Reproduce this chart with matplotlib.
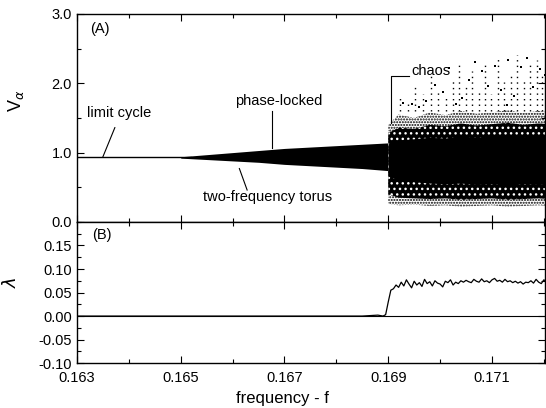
import numpy as np
import matplotlib
matplotlib.use("Agg")
import matplotlib.pyplot as plt
from matplotlib.ticker import MultipleLocator, FixedLocator

plt.rcParams['font.family'] = ['Liberation Sans', 'DejaVu Sans']
plt.rcParams['hatch.linewidth'] = 1.0

# --- panel A: amplitude envelopes ---
limit_f = [0.1630, 0.1652]
limit_v = [0.93, 0.93]

torus_f = [0.1650, 0.1655, 0.1660, 0.1665, 0.1670, 0.1675, 0.1680, 0.1685, 0.1690]
torus_hi = [0.94, 0.97, 1.00, 1.03, 1.06, 1.08, 1.10, 1.12, 1.14]
torus_lo = [0.92, 0.90, 0.88, 0.86, 0.83, 0.81, 0.79, 0.77, 0.74]

chaos_f = [0.16900, 0.16920, 0.16950, 0.16980, 0.17010, 0.17040, 0.17070,
           0.17100, 0.17130, 0.17160, 0.17190, 0.17210]
chaos_outer_hi = [1.40, 1.55, 1.50, 1.58, 1.54, 1.60, 1.56, 1.58, 1.61, 1.57, 1.60, 1.58]
chaos_outer_lo = [0.26, 0.24, 0.25, 0.23, 0.24, 0.22, 0.23, 0.24, 0.22, 0.23, 0.24, 0.23]
chaos_mid_hi = [1.28, 1.36, 1.34, 1.40, 1.38, 1.42, 1.39, 1.41, 1.43, 1.40, 1.42, 1.41]
chaos_mid_lo = [0.40, 0.35, 0.34, 0.33, 0.34, 0.32, 0.33, 0.34, 0.32, 0.33, 0.34, 0.33]
chaos_core_hi = [1.14, 1.18, 1.20, 1.22, 1.21, 1.24, 1.22, 1.24, 1.25, 1.23, 1.24, 1.23]
chaos_core_lo = [0.66, 0.60, 0.58, 0.56, 0.55, 0.56, 0.54, 0.55, 0.53, 0.55, 0.54, 0.55]

# dotted vertical streaks of sparse points above the band
streak_f = [0.16922, 0.16938, 0.16951, 0.16967, 0.16983, 0.16996, 0.17011, 0.17024,
            0.17036, 0.17049, 0.17061, 0.17074, 0.17087, 0.17099, 0.17112, 0.17124,
            0.17137, 0.17149, 0.17162, 0.17174, 0.17186, 0.17197, 0.17206, 0.17214]
streak_top = [1.82, 1.76, 1.98, 1.85, 2.12, 1.90, 1.80, 2.08, 2.26, 1.95, 2.18, 1.88,
              2.30, 1.84, 2.36, 2.02, 2.15, 2.40, 2.05, 2.28, 2.34, 2.10, 2.38, 1.96]

# isolated points
sparse_f = [0.16928, 0.16945, 0.16972, 0.16990, 0.17005, 0.17018, 0.17042, 0.17056,
            0.17068, 0.17081, 0.17093, 0.17106, 0.17118, 0.17131, 0.17143, 0.17156,
            0.17168, 0.17180, 0.17192, 0.17202, 0.17210, 0.16960, 0.17030, 0.17128]
sparse_v = [1.72, 1.70, 1.74, 1.98, 1.88, 2.22, 1.78, 2.05, 2.30, 2.18, 1.96, 2.25,
            1.90, 2.34, 1.82, 2.24, 2.36, 1.94, 2.20, 2.12, 2.26, 1.66, 1.70, 1.68]

# --- panel B: largest Lyapunov exponent ---
lam_f = [0.16300, 0.16600, 0.16850, 0.16880, 0.16890, 0.16895, 0.16900, 0.16905,
         0.16910, 0.16915, 0.16920, 0.16925, 0.16930, 0.16935, 0.16940, 0.16945,
         0.16950, 0.16955, 0.16960, 0.16965, 0.16970, 0.16975, 0.16980, 0.16985,
         0.16990, 0.16995, 0.17000, 0.17005, 0.17010, 0.17015, 0.17020, 0.17025,
         0.17030, 0.17035, 0.17040, 0.17045, 0.17050, 0.17055, 0.17060, 0.17065,
         0.17070, 0.17075, 0.17080, 0.17085, 0.17090, 0.17095, 0.17100, 0.17105,
         0.17110, 0.17115, 0.17120, 0.17125, 0.17130, 0.17135, 0.17140, 0.17145,
         0.17150, 0.17155, 0.17160, 0.17165, 0.17170, 0.17175, 0.17180, 0.17185,
         0.17190, 0.17195, 0.17200, 0.17205, 0.17210]
lam_v = [0.000, 0.000, 0.000, 0.002, 0.000, 0.003, 0.030, 0.055, 0.058, 0.066,
         0.061, 0.072, 0.064, 0.077, 0.068, 0.060, 0.074, 0.066, 0.071, 0.063,
         0.078, 0.069, 0.073, 0.064, 0.075, 0.070, 0.068, 0.062, 0.074, 0.071,
         0.077, 0.066, 0.072, 0.069, 0.075, 0.072, 0.076, 0.073, 0.071, 0.078,
         0.074, 0.072, 0.079, 0.073, 0.075, 0.071, 0.077, 0.080, 0.074, 0.076,
         0.072, 0.078, 0.073, 0.075, 0.071, 0.074, 0.070, 0.073, 0.068, 0.072,
         0.071, 0.075, 0.070, 0.078, 0.072, 0.069, 0.077, 0.073, 0.071]

xmin, xmax = 0.163, 0.17202
fs = 10.5

fig = plt.figure(figsize=(5.46, 4.08), dpi=100)
axA = fig.add_axes([0.141, 0.456, 0.857, 0.510])
axB = fig.add_axes([0.141, 0.110, 0.857, 0.346], sharex=axA)

# panel A
axA.plot(limit_f, limit_v, color='k', lw=1.0)
axA.fill_between(torus_f, torus_lo, torus_hi, color='k', lw=0)
axA.vlines(streak_f, 1.6, streak_top, colors='k', lw=1.0, linestyles=(0, (1, 3)))
axA.scatter(sparse_f, sparse_v, s=1.5, color='k', marker='s', lw=0)
axA.fill_between(chaos_f, chaos_outer_lo, chaos_outer_hi, facecolor='white',
                 edgecolor='k', hatch='......', lw=0)
axA.fill_between(chaos_f, chaos_mid_lo, chaos_mid_hi, facecolor='k',
                 edgecolor='white', hatch='...', lw=0)
axA.fill_between(chaos_f, chaos_core_lo, chaos_core_hi, color='k', lw=0)
axA.set_ylim(0, 3.0)
axA.set_xlim(xmin, xmax)
axA.set_yticks([0.0, 1.0, 2.0, 3.0])
axA.set_yticklabels(['0.0', '1.0', '2.0', '3.0'])
axA.yaxis.set_minor_locator(MultipleLocator(0.5))
axA.set_ylabel(r'V$_{\alpha}$', fontsize=13)
axA.yaxis.set_label_coords(-0.11, 0.58)
axA.text(0.16325, 2.72, '(A)', fontsize=fs)

axA.text(0.16320, 1.51, 'limit cycle', fontsize=fs)
axA.plot([0.16373, 0.16350], [1.36, 0.94], color='k', lw=0.8)
axA.text(0.16605, 1.68, 'phase-locked', fontsize=fs)
axA.plot([0.16675, 0.16675], [1.60, 1.07], color='k', lw=0.8)
axA.text(0.16542, 0.30, 'two-frequency torus', fontsize=fs)
axA.plot([0.16613, 0.16628], [0.77, 0.46], color='k', lw=0.8)
axA.text(0.16944, 2.12, 'chaos', fontsize=fs)
axA.plot([0.16906, 0.16906, 0.16940], [1.43, 2.10, 2.10], color='k', lw=0.8)

# panel B
axB.axhline(0, color='k', lw=0.8)
axB.plot(lam_f, lam_v, color='k', lw=0.9)
axB.set_ylim(-0.10, 0.20)
axB.set_yticks([-0.10, -0.05, 0.00, 0.05, 0.10, 0.15])
axB.set_yticklabels(['-0.10', '-0.05', '0.00', '0.05', '0.10', '0.15'])
axB.yaxis.set_minor_locator(MultipleLocator(0.025))
axB.set_ylabel(r'$\lambda$', fontsize=13)
axB.yaxis.set_label_coords(-0.122, 0.574)
axB.text(0.16330, 0.163, '(B)', fontsize=fs)

axB.set_xticks([0.163, 0.165, 0.167, 0.169, 0.171])
axB.set_xticklabels(['0.163', '0.165', '0.167', '0.169', '0.171'])
axB.xaxis.set_minor_locator(FixedLocator([0.164, 0.166, 0.168, 0.170, 0.172]))
axB.set_xlabel('frequency - f', fontsize=12)
axB.xaxis.set_label_coords(0.44, -0.20)

for ax in (axA, axB):
    ax.tick_params(which='both', direction='in', top=True, right=True,
                   labelsize=fs, width=0.8)
    ax.tick_params(which='major', length=5)
    ax.tick_params(which='minor', length=3)
    for s in ax.spines.values():
        s.set_linewidth(1.0)
axB.tick_params(axis='x', which='major', pad=5.5)
plt.setp(axA.get_xticklabels(), visible=False)

fig.savefig('out.png', dpi=100)
